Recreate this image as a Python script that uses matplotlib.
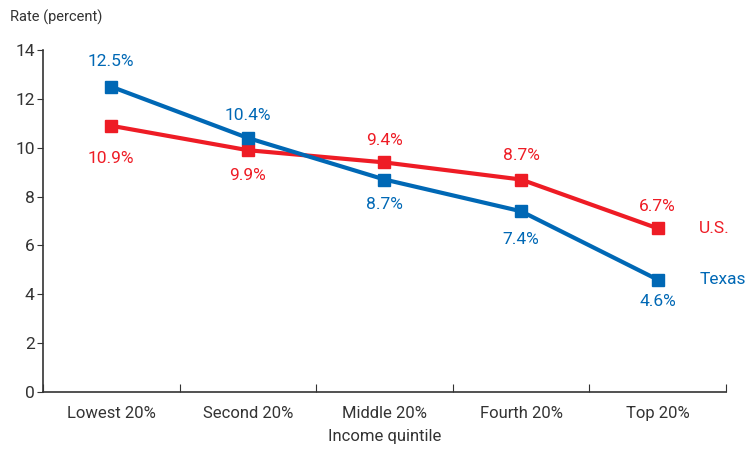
import matplotlib
matplotlib.use('Agg')
import matplotlib.pyplot as plt

# 窄体字体，找不到时退回 DejaVu
plt.rcParams['font.family'] = ['Roboto', 'DejaVu Sans']

categories = ['Lowest 20%', 'Second 20%', 'Middle 20%', 'Fourth 20%', 'Top 20%']
texas = [12.5, 10.4, 8.7, 7.4, 4.6]
us = [10.9, 9.9, 9.4, 8.7, 6.7]
texas_labels = ['12.5%', '10.4%', '8.7%', '7.4%', '4.6%']
us_labels = ['10.9%', '9.9%', '9.4%', '8.7%', '6.7%']
# 标签相对数据点的垂直偏移(像素，正为上方)
texas_off = [25, 22, -25, -28, -22]
us_off = [-33, -25, 22, 24, 22]

BLUE = '#0068b5'
RED = '#ee1c25'
GREY = '#333333'

fig = plt.figure(figsize=(7.45, 4.51), dpi=100)
ax = fig.add_axes([0.0577, 0.1308, 0.9168, 0.7582])

x = list(range(len(categories)))
ax.plot(x, us, color=RED, linewidth=3, marker='s', markersize=9, zorder=3)
ax.plot(x, texas, color=BLUE, linewidth=3, marker='s', markersize=9, zorder=4)

for xi, v, lab, o in zip(x, texas, texas_labels, texas_off):
    ax.annotate(lab, (xi, v), xytext=(0, o * 0.72), textcoords='offset points',
                ha='center', va='center', color=BLUE, fontsize=12.5)
for xi, v, lab, o in zip(x, us, us_labels, us_off):
    ax.annotate(lab, (xi, v), xytext=(0, o * 0.72), textcoords='offset points',
                ha='center', va='center', color=RED, fontsize=12.5)

# 系列名称
ax.annotate('U.S.', (x[-1], us[-1]), xytext=(30, 0), textcoords='offset points',
            ha='left', va='center', color=RED, fontsize=12.5, annotation_clip=False)
ax.annotate('Texas', (x[-1], texas[-1]), xytext=(30, 0), textcoords='offset points',
            ha='left', va='center', color=BLUE, fontsize=12.5, annotation_clip=False)

ax.set_xlim(-0.5, len(categories) - 0.5)
ax.set_ylim(0, 14)
ax.set_yticks(range(0, 15, 2))
ax.set_xticks([i - 0.5 for i in range(len(categories) + 1)])
ax.set_xticklabels([])
ax.set_xticks(x, minor=True)
ax.set_xticklabels(categories, minor=True)
ax.tick_params(axis='x', which='minor', length=0, labelsize=12, colors=GREY, pad=10)
ax.tick_params(axis='x', which='major', length=6, direction='in', color=GREY)
ax.tick_params(axis='y', length=4, color=GREY, labelsize=12.5, labelcolor=GREY, pad=2)

for s in ['top', 'right']:
    ax.spines[s].set_visible(False)
for s in ['left', 'bottom']:
    ax.spines[s].set_color(GREY)
    ax.spines[s].set_linewidth(1.2)

ax.set_xlabel('Income quintile', fontsize=12, color=GREY, labelpad=6)
fig.text(0.013, 0.962, 'Rate (percent)', fontsize=10.5, color=GREY, ha='left', va='center')

plt.savefig('out.png', dpi=100)
